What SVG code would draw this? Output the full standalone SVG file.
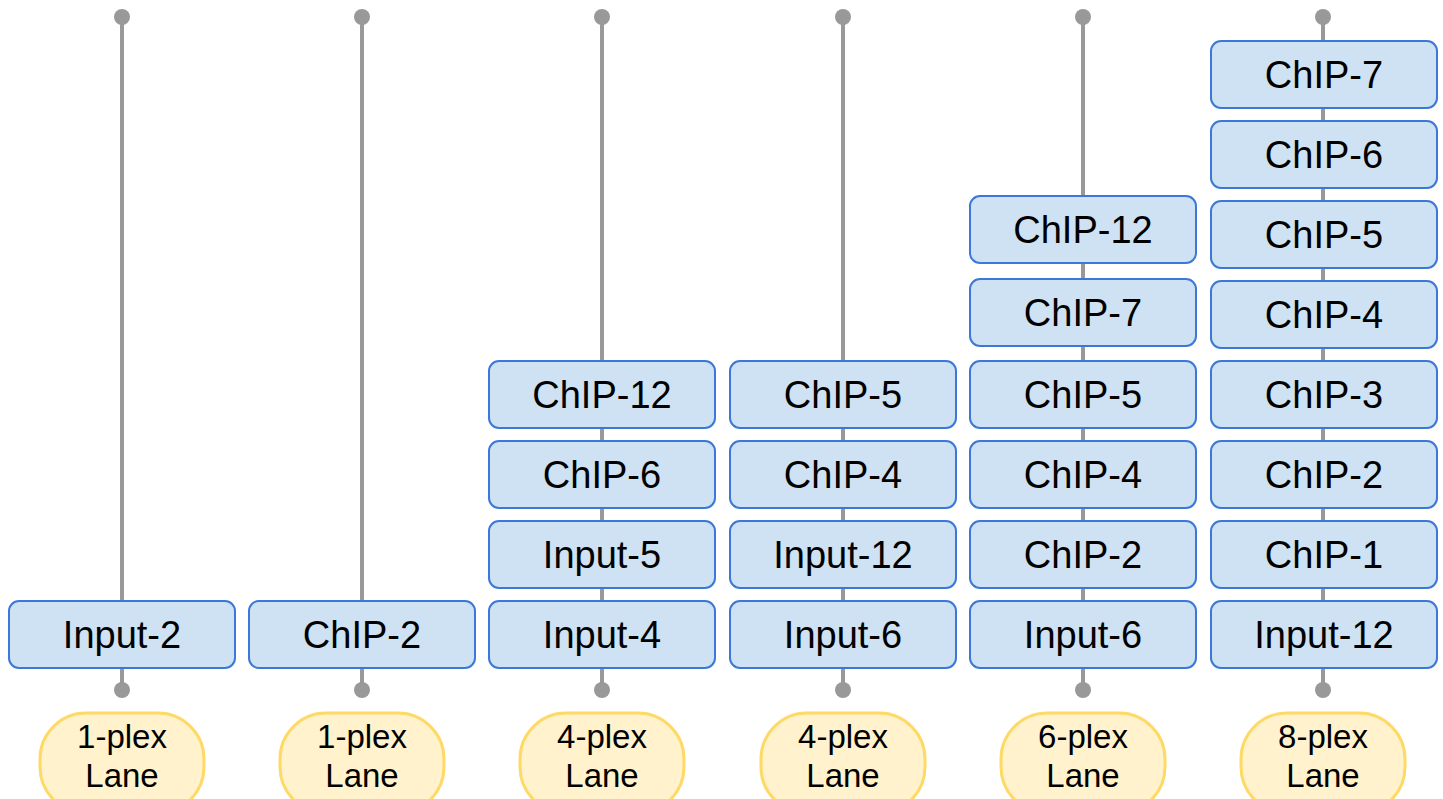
<svg xmlns="http://www.w3.org/2000/svg" width="1443" height="799" viewBox="0 0 1443 799">
<style>
.ln{stroke:#999999;stroke-width:4;fill:none}
.dot{fill:#999999}
.box rect{fill:#cfe2f3;stroke:#3c78d8;stroke-width:2}
.box text{font-family:"Liberation Sans",Arial,sans-serif;font-size:38px;fill:#000;text-anchor:middle}
.lane rect{fill:#fff2cc;stroke:#ffd966;stroke-width:3}
.lane text{font-family:"Liberation Sans",Arial,sans-serif;font-size:33px;fill:#000;text-anchor:middle}
</style>
<rect width="1443" height="799" fill="#ffffff"/>
<g id="connectors">
<line class="ln" x1="122" y1="17" x2="122" y2="690"/>
<line class="ln" x1="362" y1="17" x2="362" y2="690"/>
<line class="ln" x1="602" y1="17" x2="602" y2="690"/>
<line class="ln" x1="843" y1="17" x2="843" y2="690"/>
<line class="ln" x1="1083" y1="17" x2="1083" y2="690"/>
<line class="ln" x1="1323" y1="17" x2="1323" y2="690"/>
<circle class="dot" cx="122" cy="17" r="8"/><circle class="dot" cx="122" cy="690" r="8"/>
<circle class="dot" cx="362" cy="17" r="8"/><circle class="dot" cx="362" cy="690" r="8"/>
<circle class="dot" cx="602" cy="17" r="8"/><circle class="dot" cx="602" cy="690" r="8"/>
<circle class="dot" cx="843" cy="17" r="8"/><circle class="dot" cx="843" cy="690" r="8"/>
<circle class="dot" cx="1083" cy="17" r="8"/><circle class="dot" cx="1083" cy="690" r="8"/>
<circle class="dot" cx="1323" cy="17" r="8"/><circle class="dot" cx="1323" cy="690" r="8"/>
</g>
<!-- column 1 -->
<g id="c1-input2" class="box"><rect x="9" y="601" width="226" height="67" rx="10"/><text x="122" y="648">Input-2</text></g>
<!-- column 2 -->
<g id="c2-chip2" class="box"><rect x="249" y="601" width="226" height="67" rx="10"/><text x="362" y="648">ChIP-2</text></g>
<!-- column 3 -->
<g id="c3-chip12" class="box"><rect x="489" y="361" width="226" height="67" rx="10"/><text x="602" y="408">ChIP-12</text></g>
<g id="c3-chip6" class="box"><rect x="489" y="441" width="226" height="67" rx="10"/><text x="602" y="488">ChIP-6</text></g>
<g id="c3-input5" class="box"><rect x="489" y="521" width="226" height="67" rx="10"/><text x="602" y="568">Input-5</text></g>
<g id="c3-input4" class="box"><rect x="489" y="601" width="226" height="67" rx="10"/><text x="602" y="648">Input-4</text></g>
<!-- column 4 -->
<g id="c4-chip5" class="box"><rect x="730" y="361" width="226" height="67" rx="10"/><text x="843" y="408">ChIP-5</text></g>
<g id="c4-chip4" class="box"><rect x="730" y="441" width="226" height="67" rx="10"/><text x="843" y="488">ChIP-4</text></g>
<g id="c4-input12" class="box"><rect x="730" y="521" width="226" height="67" rx="10"/><text x="843" y="568">Input-12</text></g>
<g id="c4-input6" class="box"><rect x="730" y="601" width="226" height="67" rx="10"/><text x="843" y="648">Input-6</text></g>
<!-- column 5 -->
<g id="c5-chip12" class="box"><rect x="970" y="196" width="226" height="67" rx="10"/><text x="1083" y="243">ChIP-12</text></g>
<g id="c5-chip7" class="box"><rect x="970" y="279" width="226" height="67" rx="10"/><text x="1083" y="326">ChIP-7</text></g>
<g id="c5-chip5" class="box"><rect x="970" y="361" width="226" height="67" rx="10"/><text x="1083" y="408">ChIP-5</text></g>
<g id="c5-chip4" class="box"><rect x="970" y="441" width="226" height="67" rx="10"/><text x="1083" y="488">ChIP-4</text></g>
<g id="c5-chip2" class="box"><rect x="970" y="521" width="226" height="67" rx="10"/><text x="1083" y="568">ChIP-2</text></g>
<g id="c5-input6" class="box"><rect x="970" y="601" width="226" height="67" rx="10"/><text x="1083" y="648">Input-6</text></g>
<!-- column 6 -->
<g id="c6-chip7" class="box"><rect x="1211" y="41" width="226" height="67" rx="10"/><text x="1324" y="88">ChIP-7</text></g>
<g id="c6-chip6" class="box"><rect x="1211" y="121" width="226" height="67" rx="10"/><text x="1324" y="168">ChIP-6</text></g>
<g id="c6-chip5" class="box"><rect x="1211" y="201" width="226" height="67" rx="10"/><text x="1324" y="248">ChIP-5</text></g>
<g id="c6-chip4" class="box"><rect x="1211" y="281" width="226" height="67" rx="10"/><text x="1324" y="328">ChIP-4</text></g>
<g id="c6-chip3" class="box"><rect x="1211" y="361" width="226" height="67" rx="10"/><text x="1324" y="408">ChIP-3</text></g>
<g id="c6-chip2" class="box"><rect x="1211" y="441" width="226" height="67" rx="10"/><text x="1324" y="488">ChIP-2</text></g>
<g id="c6-chip1" class="box"><rect x="1211" y="521" width="226" height="67" rx="10"/><text x="1324" y="568">ChIP-1</text></g>
<g id="c6-input12" class="box"><rect x="1211" y="601" width="226" height="67" rx="10"/><text x="1324" y="648">Input-12</text></g>
<!-- lanes -->
<g id="lane1" class="lane"><rect x="40" y="713" width="164" height="100" rx="46"/><text x="122" y="748">1-plex</text><text x="122" y="787">Lane</text></g>
<g id="lane2" class="lane"><rect x="280" y="713" width="164" height="100" rx="46"/><text x="362" y="748">1-plex</text><text x="362" y="787">Lane</text></g>
<g id="lane3" class="lane"><rect x="520" y="713" width="164" height="100" rx="46"/><text x="602" y="748">4-plex</text><text x="602" y="787">Lane</text></g>
<g id="lane4" class="lane"><rect x="761" y="713" width="164" height="100" rx="46"/><text x="843" y="748">4-plex</text><text x="843" y="787">Lane</text></g>
<g id="lane5" class="lane"><rect x="1001" y="713" width="164" height="100" rx="46"/><text x="1083" y="748">6-plex</text><text x="1083" y="787">Lane</text></g>
<g id="lane6" class="lane"><rect x="1241" y="713" width="164" height="100" rx="46"/><text x="1323" y="748">8-plex</text><text x="1323" y="787">Lane</text></g>
</svg>
